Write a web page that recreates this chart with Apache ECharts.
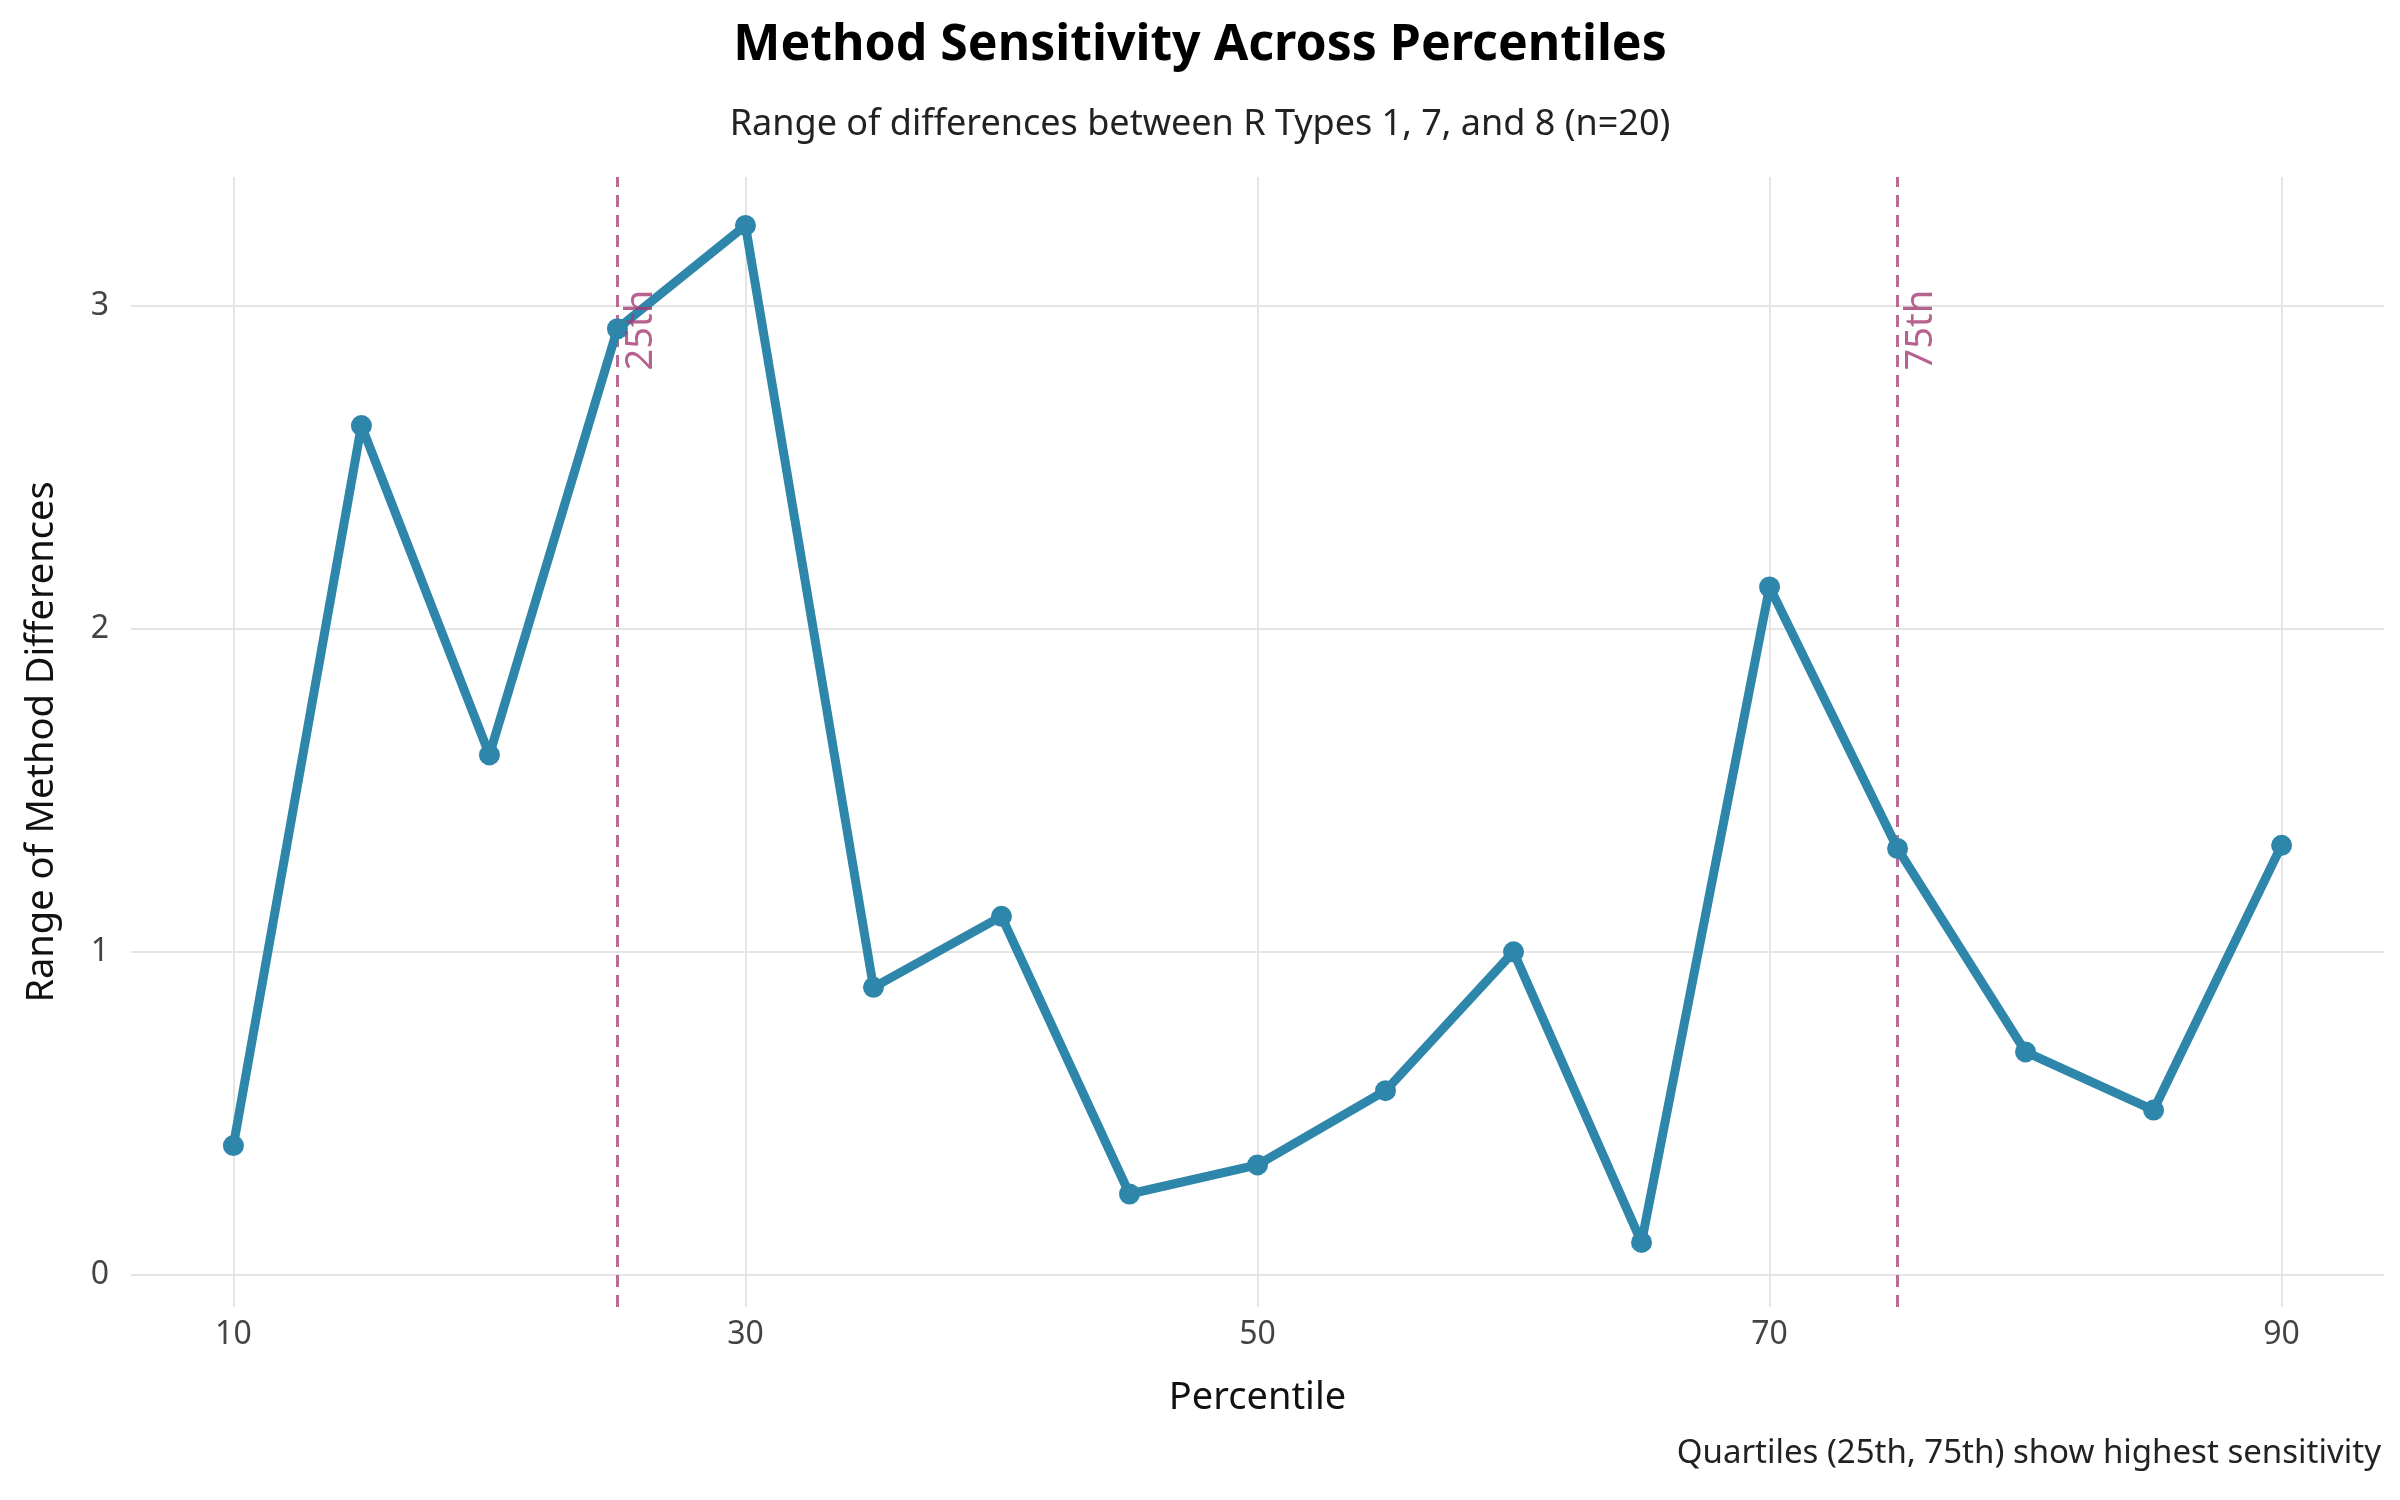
<!DOCTYPE html>
<html><head><meta charset="utf-8">
<script src="https://cdn.jsdelivr.net/npm/echarts@6/dist/echarts.min.js"></script>
<style>html,body{margin:0;background:#fff}#chart{width:2400px;height:1500px}</style>
</head><body><div id="chart"></div>
<script>
const percentiles = [10, 15, 20, 25, 30, 35, 40, 45, 50, 55, 60, 65, 70, 75, 80, 85, 90];
const ranges = [0.40, 2.63, 1.61, 2.93, 3.25, 0.89, 1.11, 0.25, 0.34, 0.57, 1.00, 0.10, 2.13, 1.32, 0.69, 0.51, 1.33];
const xTicks = [10, 30, 50, 70, 90];
const yTicks = [0, 1, 2, 3];
const quartiles = [25, 75];
const quartileLabels = ['25th', '75th'];
const quartileLabelY = 3;

const font = 'Noto Sans';
const grid = '#e5e5e5';
const accent = '#a23b72';

let chart = echarts.init(document.getElementById('chart'));
let gridLines = [
    ...xTicks.map(v => ({ xAxis: v })),
    ...yTicks.map(v => ({ yAxis: v }))
];

chart.setOption({
    animation: false,
    textStyle: { fontFamily: font },
    title: [
        { text: 'Method Sensitivity Across Percentiles', left: 'center', top: 16,
          textStyle: { fontSize: 50, fontWeight: 'bold', color: '#000', fontFamily: font } },
        { text: 'Range of differences between R Types 1, 7, and 8 (n=20)', left: 'center', top: 102,
          textStyle: { fontSize: 36, fontWeight: 'normal', color: '#222', fontFamily: font } },
        { text: 'Quartiles (25th, 75th) show highest sensitivity', right: 14, top: 1432,
          textStyle: { fontSize: 33, fontWeight: 'normal', color: '#222', fontFamily: font } }
    ],
    grid: { left: 131, right: 16, top: 177, bottom: 193 },
    xAxis: {
        type: 'value', min: 6, max: 94, interval: 2,
        name: 'Percentile', nameLocation: 'middle', nameGap: 72,
        nameTextStyle: { fontSize: 38, color: '#111' },
        axisLine: { show: false }, axisTick: { show: false }, splitLine: { show: false },
        axisLabel: { fontSize: 32, color: '#444', margin: 12, showMinLabel: true, showMaxLabel: false,
            formatter: v => xTicks.includes(v) ? String(v) : '' }
    },
    yAxis: {
        type: 'value', min: -0.1, max: 3.4, interval: 0.1,
        name: 'Range of Method Differences', nameLocation: 'middle', nameGap: 70,
        nameTextStyle: { fontSize: 38, color: '#111' },
        axisLine: { show: false }, axisTick: { show: false }, splitLine: { show: false },
        axisLabel: { fontSize: 32, color: '#444', margin: 22,
            formatter: v => yTicks.some(t => Math.abs(t - v) < 1e-6) ? String(Math.round(v)) : '' }
    },
    series: [
        {
            type: 'line', data: [], silent: true,
            markLine: { silent: true, symbol: 'none', label: { show: false },
                lineStyle: { color: grid, width: 2, type: 'solid' }, data: gridLines }
        },
        {
            type: 'line', data: [], silent: true, z: 3,
            markLine: { silent: true, symbol: 'none', label: { show: false },
                lineStyle: { color: accent, width: 3, type: [12, 8], opacity: 0.75 },
                data: quartiles.map(v => ({ xAxis: v })) }
        },
        {
            type: 'line', z: 5,
            data: percentiles.map((p, i) => [p, ranges[i]]),
            lineStyle: { color: '#2e86ab', width: 9 },
            itemStyle: { color: '#2e86ab' },
            symbol: 'circle', symbolSize: 21
        },
        {
            type: 'scatter', z: 6, symbolSize: 0,
            data: quartiles.map((q, i) => ({ value: [q, quartileLabelY], name: quartileLabels[i] })),
            label: { show: true, formatter: p => p.name, rotate: 90, position: 'inside',
                offset: [-24, 24], fontSize: 38, color: accent }
        }
    ]
});
</script></body></html>
